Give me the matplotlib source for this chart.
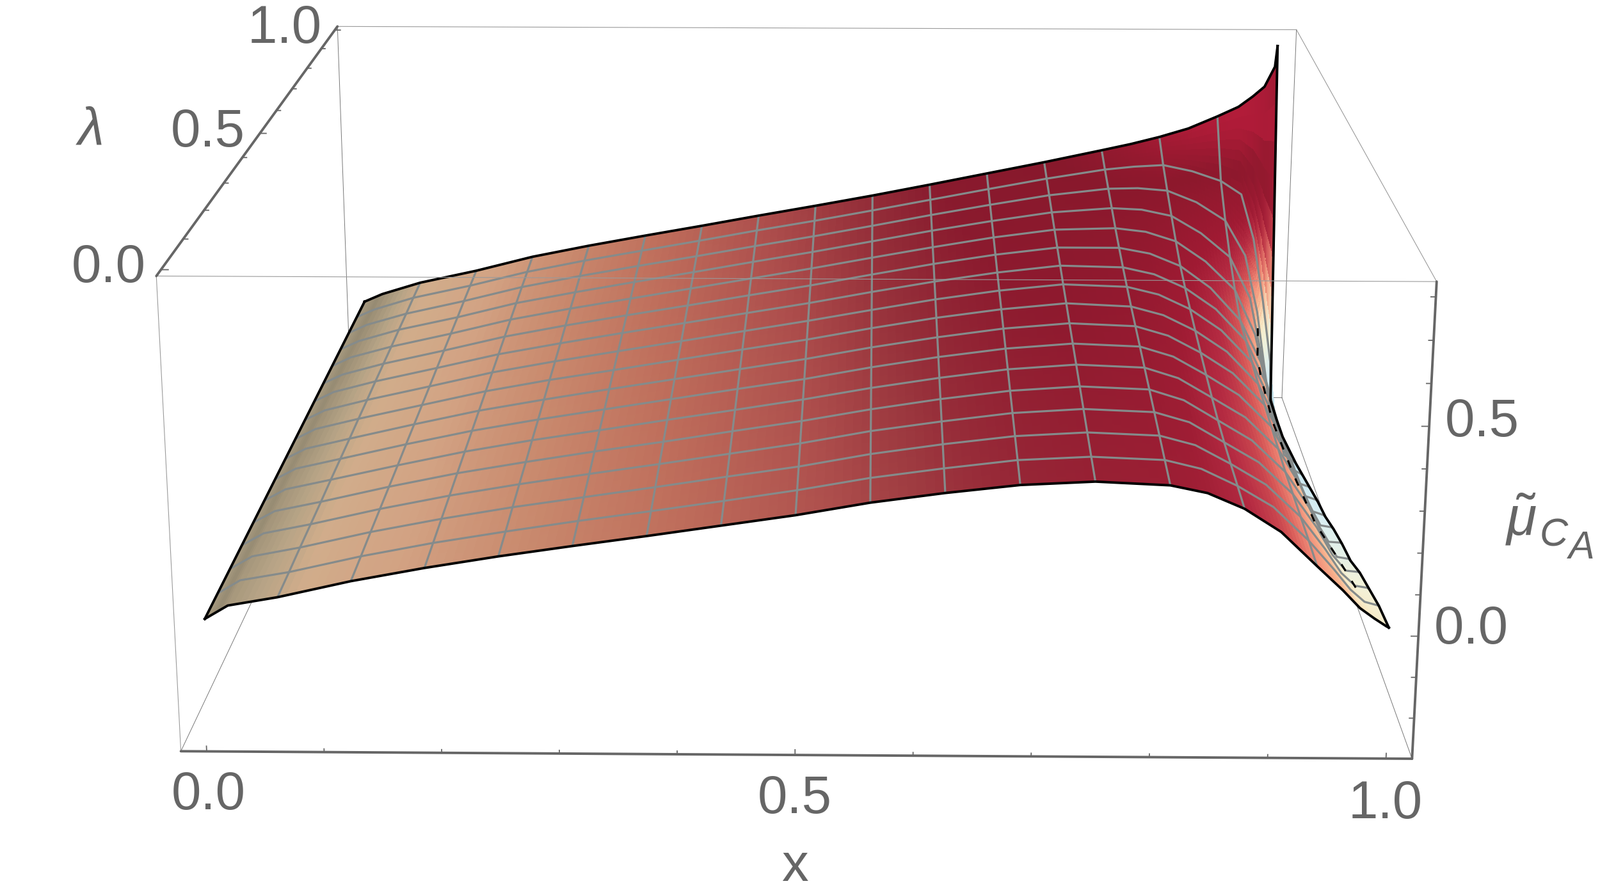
"""
Surface of mu_CA over x and lambda, with a Mathematica style box and perspective.
"""

import numpy as np
import matplotlib
matplotlib.use('Agg')
import matplotlib.pyplot as plt
from matplotlib.colors import LinearSegmentedColormap, Normalize

W, H = 2500, 1399

plt.rcParams['font.family'] = ['Liberation Sans', 'DejaVu Sans']
plt.rcParams['mathtext.fontset'] = 'custom'
plt.rcParams['mathtext.it'] = 'Liberation Sans:italic'
plt.rcParams['mathtext.rm'] = 'Liberation Sans'

# Surface values
x_grid = [0, 0.02, 0.0625, 0.125, 0.1875, 0.25, 0.3125, 0.375, 0.4375, 0.5, 0.5625, 0.625,
          0.6875, 0.75, 0.8125, 0.84375, 0.875, 0.90625, 0.9375, 0.96, 0.975, 0.9875, 0.998, 1.0]
lam_grid = [k / 16 for k in range(17)]

# one list per x_grid entry, each running over lam_grid
mu_columns = [
    [.005] * 17,
    [.038, .038, .037, .036, .035, .035, .034, .033, .033, .032, .032, .031, .031, .030, .030, .029, .029],
    [.059, .059, .060, .060, .060, .061, .061, .061, .062, .062, .063, .063, .063, .064, .064, .065, .065],
    [.099, .099, .100, .100, .100, .100, .101, .101, .101, .101, .102, .102, .102, .102, .103, .103, .103],
    [.132, .133, .134, .135, .136, .137, .138, .139, .140, .141, .142, .143, .144, .145, .146, .146, .147],
    [.161, .162, .164, .165, .166, .168, .169, .170, .172, .173, .174, .176, .177, .178, .180, .181, .182],
    [.187, .189, .190, .192, .194, .195, .197, .199, .200, .202, .204, .206, .207, .209, .211, .212, .214],
    [.212, .214, .216, .218, .220, .223, .225, .227, .229, .231, .233, .235, .237, .239, .241, .243, .245],
    [.238, .240, .243, .245, .248, .250, .253, .255, .258, .260, .262, .265, .267, .270, .272, .275, .277],
    [.264, .267, .269, .272, .275, .278, .280, .283, .286, .289, .291, .294, .297, .300, .302, .305, .308],
    [.295, .298, .301, .304, .306, .309, .312, .315, .318, .320, .323, .326, .329, .332, .334, .337, .340],
    [.319, .322, .326, .329, .333, .336, .340, .343, .347, .350, .353, .357, .360, .364, .367, .370, .374],
    [.339, .343, .347, .351, .355, .359, .363, .367, .371, .375, .379, .384, .389, .393, .398, .403, .409],
    [.348, .352, .357, .362, .367, .372, .377, .382, .388, .393, .399, .405, .412, .419, .427, .435, .444],
    [.340, .345, .350, .355, .360, .365, .370, .375, .380, .387, .395, .405, .417, .432, .447, .463, .481],
    [.322, .324, .327, .330, .333, .338, .344, .350, .357, .366, .376, .389, .407, .428, .449, .472, .500],
    [.285, .283, .281, .280, .282, .288, .296, .305, .315, .326, .338, .354, .380, .410, .442, .477, .522],
    [.230, .232, .230, .230, .231, .237, .243, .250, .258, .268, .279, .292, .322, .360, .408, .459, .548],
    [.148, .150, .150, .150, .150, .155, .160, .165, .170, .180, .190, .200, .240, .290, .354, .430, .585],
    [.090, .080, .070, .065, .060, .055, .050, .050, .050, .055, .065, .080, .110, .170, .250, .390, .614],
    [.047, .030, .010, -.005, -.020, -.035, -.045, -.055, -.065, -.070, -.070, -.065, -.050, -.010, .080, .255, .645],
    [.022, .000, -.022, -.045, -.070, -.090, -.105, -.125, -.140, -.160, -.175, -.190, -.195, -.180, -.130, .068, .675],
    [.003, -.008, -.027, -.048, -.075, -.092, -.110, -.135, -.150, -.170, -.190, -.210, -.225, -.235, -.225, -.120, .735],
    [.000, -.010, -.030, -.050, -.080, -.095, -.115, -.140, -.155, -.175, -.195, -.215, -.230, -.245, -.245, -.240, .797],
]

# inner black crease near x = 1
crease_lam = [0.12, 0.25, 0.41, 0.60, 0.80, 0.93, 0.97, 0.975, 0.985]
crease_mu = [-0.022, -0.07, -0.135, -0.17, -0.19, -0.16, -0.13, -0.06, -0.03]

x_ticks = [k / 10 for k in range(11)]
lam_ticks = [k / 10 for k in range(11)]
mu_ticks = [k / 10 for k in range(-2, 9)]

# Plot box
x_lim = (-0.022, 1.022)
lam_lim = (-0.02, 1.02)
mu_lim = (-0.30, 0.835)

# where the box corners land in the image (x_index, lam_index, mu_index, px, py)
box_view = [
    (0, 0, 0, 282, 1172), (1, 0, 0, 2207, 1186), (0, 0, 1, 244, 431), (1, 0, 1, 2245, 443),
    (0, 1, 1, 528, 40), (1, 1, 1, 2025, 46), (0, 1, 0, 548, 618), (1, 1, 0, 2003, 620),
]

# Colours against mu, dull ramp on the left, lit ramp on the right
left_stops = [(0.0, '#ad9f84'), (0.025, '#958a72'), (0.05, '#b7a486'), (0.07, '#d1ad8b'),
              (0.12, '#d2a283'), (0.17, '#c98a6e'), (0.22, '#bf6f5c'), (0.28, '#ad4e4c'),
              (0.33, '#96303a'), (0.38, '#861a2d'), (0.45, '#80182a')]
right_stops = [(-0.25, '#b9e0ee'), (-0.12, '#d8eef2'), (-0.03, '#f2f2da'), (0.03, '#f8e8c2'),
               (0.09, '#f8b48e'), (0.15, '#f08c78'), (0.20, '#d85a58'), (0.27, '#b52b42'),
               (0.33, '#a01a33'), (0.45, '#8c182c'), (0.55, '#ad1b37'), (0.62, '#b41c3a'),
               (0.72, '#961a30'), (0.80, '#8c1a2b')]

GRAY = '#666666'
BOX = '#9a9a9a'
MESH = '#858b8b'


def ramp(stops):
    """Colormap and norm from (value, colour) stops."""
    lo, hi = stops[0][0], stops[-1][0]
    cmap = LinearSegmentedColormap.from_list(
        'ramp', [((v - lo) / (hi - lo), c) for v, c in stops], N=512)
    return cmap, Normalize(lo, hi, clip=True)


def surface_colors(xf, zf):
    """RGBA per vertex, blending the two ramps with x."""
    lc, ln = ramp(left_stops)
    rc, rn = ramp(right_stops)
    w = np.clip((xf - 0.6) / 0.28, 0, 1)[..., None]
    return lc(ln(zf)) * (1 - w) + rc(rn(zf)) * w


def refine(values, sub):
    """Split every grid step into sub parts, for shading only."""
    idx = np.linspace(0, len(values) - 1, (len(values) - 1) * sub + 1)
    return np.interp(idx, np.arange(len(values)), values)


def camera_matrix(ax):
    """4x4 projection that puts the box corners on their image positions."""
    rows, rhs = [], []
    for ix, il, iz, px, py in box_view:
        p = (x_lim[ix], lam_lim[il], mu_lim[iz])
        py = H - py
        rows.append([*p, 1, 0, 0, 0, 0, -px * p[0], -px * p[1], -px * p[2]])
        rows.append([0, 0, 0, 0, *p, 1, -py * p[0], -py * p[1], -py * p[2]])
        rhs += [px, py]
    h = np.linalg.lstsq(np.array(rows, float), np.array(rhs, float), rcond=None)[0]
    P = np.append(h, 1).reshape(3, 4)
    ax.apply_aspect()
    P = ax.transData.inverted().get_matrix() @ P
    # depth stays negative and grows away from the viewer
    return np.vstack([P[0], P[1], [0, 0, 0, -1.0], P[2]])


def label(px, py, s, **kw):
    kw.setdefault('fontsize', 60)
    kw.setdefault('color', GRAY)
    fig.text(px / W, 1 - py / H, s, ha='center', va='center', **kw)


fig = plt.figure(figsize=(W / 100, H / 100), dpi=100)
# square 3d axes as wide as the figure, it gets forced square anyway
ax = fig.add_axes([0, -(W - H) / 2 / H, 1, W / H], projection='3d')
ax.set_axis_off()
ax.computed_zorder = False
M = camera_matrix(ax)
ax.get_proj = lambda: M

x_arr = np.array(x_grid)
lam_arr = np.array(lam_grid)
mu_arr = np.array(mu_columns).T    # rows over lam, columns over x

# Surface
SUB = 8
xf = refine(x_arr, SUB)
lf = refine(lam_arr, SUB)
idx_x = np.linspace(0, len(x_arr) - 1, len(xf))
idx_l = np.linspace(0, len(lam_arr) - 1, len(lf))
by_col = np.array([np.interp(idx_x, np.arange(len(x_arr)), row) for row in mu_arr])
zf = np.array([np.interp(idx_l, np.arange(len(lam_arr)), col) for col in by_col.T]).T
XF, LF = np.meshgrid(xf, lf)
corner = surface_colors(XF, zf)
face = (corner[:-1, :-1] + corner[1:, :-1] + corner[:-1, 1:] + corner[1:, 1:]) / 4
ax.plot_surface(XF, LF, zf, facecolors=face, rstride=1, cstride=1, shade=False,
                linewidth=0, antialiased=False, zorder=2)

# Mesh lines at the 1/16 steps
for i in range(1, 16):
    ax.plot(x_arr, np.full_like(x_arr, lam_arr[i]), mu_arr[i], color=MESH, lw=2.3,
            solid_capstyle='butt', zorder=3)
for k in range(1, 16):
    j = x_grid.index(k / 16)
    ax.plot(np.full_like(lam_arr, x_arr[j]), lam_arr, mu_arr[:, j], color=MESH, lw=2.3,
            solid_capstyle='butt', zorder=3)

# Boundary
for i in (0, 16):
    ax.plot(x_arr, np.full_like(x_arr, lam_arr[i]), mu_arr[i], color='black', lw=2.8, zorder=4)
for j in (0, len(x_grid) - 1):
    ax.plot(np.full_like(lam_arr, x_arr[j]), lam_arr, mu_arr[:, j], color='black', lw=2.8, zorder=4)
ax.plot(np.full(len(crease_lam), 0.9875), crease_lam, crease_mu, color='black', lw=2.2,
        ls=(0, (4, 6)), zorder=4)

# Box, thin edges
xa, xb = x_lim
la, lb = lam_lim
za, zb = mu_lim
behind = [((xa, la, za), (xa, lb, za)), ((xb, la, za), (xb, lb, za)), ((xa, lb, za), (xb, lb, za)),
          ((xa, lb, za), (xa, lb, zb)), ((xb, lb, za), (xb, lb, zb))]
front = [((xa, la, za), (xa, la, zb)), ((xa, la, zb), (xb, la, zb)), ((xb, la, zb), (xb, lb, zb)),
         ((xa, lb, zb), (xb, lb, zb))]
for a, b in behind:
    ax.plot(*zip(a, b), color='#777777', lw=0.7, zorder=1)
for a, b in front:
    ax.plot(*zip(a, b), color=BOX, lw=0.8, zorder=5)

# Box, the three axes
for a, b in [((xa, la, za), (xb, la, za)), ((xb, la, za), (xb, la, zb)), ((xa, la, zb), (xa, lb, zb))]:
    ax.plot(*zip(a, b), color=GRAY, lw=2.8, solid_capstyle='round', zorder=6)

# Ticks
for t in x_ticks:
    n = 0.013 if t in (0, 0.5, 1.0) else 0.008
    ax.plot([t, t], [la, la], [za, za + n], color=GRAY, lw=1.3, zorder=6)
for t in mu_ticks:
    n = 0.006 if t in (0.0, 0.5) else 0.004
    ax.plot([xb, xb - n], [la, la], [t, t], color=GRAY, lw=1.3, zorder=6)
for t in lam_ticks:
    n = 0.006 if t in (0, 0.5, 1.0) else 0.004
    ax.plot([xa, xa + n], [t, t], [zb, zb], color=GRAY, lw=1.3, zorder=6)

# Text
label(326, 1243, '0.0')
label(1242, 1249, '0.5')
label(2165, 1257, '1.0')
label(1242, 1355, 'x')
label(170, 419, '0.0')
label(325, 207, '0.5')
label(445, 45, '1.0')
label(142, 205, 'λ', style='italic')
label(2299, 984, '0.0')
label(2316, 660, '0.5')
label(2377, 812, r'$\tilde{\mu}$', fontsize=62)
label(2428, 838, 'C', style='italic', fontsize=44)
label(2470, 858, 'A', style='italic', fontsize=44)

fig.savefig('out.png', dpi=100)
